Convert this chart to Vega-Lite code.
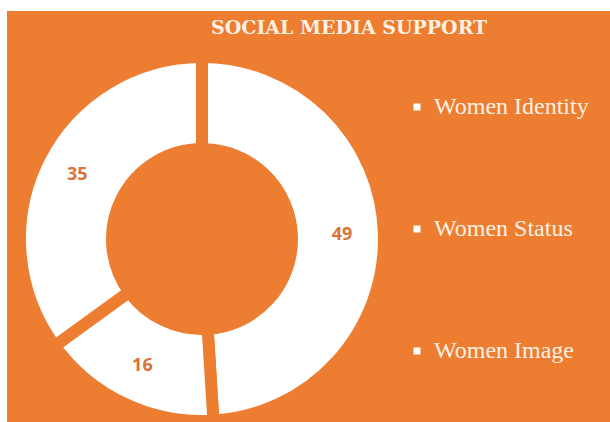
{
  "$schema": "https://vega.github.io/schema/vega-lite/v6.json",
  "autosize": {"type": "none"},
  "width": 603,
  "height": 411,
  "padding": {"left": 7, "top": 11, "right": 0, "bottom": 0},
  "background": "#FFFFFF",
  "view": {"fill": "#ED7D31", "stroke": null},
  "title": {
    "text": "SOCIAL MEDIA SUPPORT",
    "font": "DejaVu Serif",
    "fontSize": 19,
    "fontWeight": "bold",
    "color": "#FDF1E4",
    "anchor": "start",
    "frame": "group",
    "dx": 204,
    "offset": -42,
    "baseline": "alphabetic"
  },
  "data": {
    "values": [
      {"category": "Women Identity", "value": 49, "o": 1},
      {"category": "Women Status", "value": 16, "o": 2},
      {"category": "Women Image", "value": 35, "o": 3}
    ]
  },
  "encoding": {
    "theta": {"field": "value", "type": "quantitative", "stack": true},
    "order": {"field": "o", "type": "quantitative"}
  },
  "layer": [
    {
      "mark": {"type": "arc", "x": 195, "y": 228, "innerRadius": 90, "outerRadius": 182, "stroke": "#ED7D31", "strokeWidth": 12},
      "encoding": {
        "color": {
          "field": "category",
          "type": "nominal",
          "sort": ["Women Identity", "Women Status", "Women Image"],
          "scale": {"range": ["#FFFFFF", "#FFFFFF", "#FFFFFF"]},
          "legend": {
            "title": null,
            "orient": "none",
            "direction": "vertical",
            "legendX": 398,
            "legendY": 84,
            "padding": 0,
            "symbolType": "square",
            "symbolSize": 49,
            "symbolFillColor": "#FFFFFF",
            "symbolStrokeWidth": 0,
            "labelFont": "Liberation Serif",
            "labelFontSize": 24,
            "labelColor": "#FDF1E4",
            "labelOffset": 5,
            "labelLimit": 300,
            "rowPadding": 98
          }
        }
      }
    },
    {
      "mark": {"type": "text", "x": 195, "y": 228, "radius": 140, "font": "Open Sans", "fontWeight": "bold", "fontSize": 18, "color": "#D9733A"},
      "encoding": {
        "text": {"field": "value", "type": "quantitative"}
      }
    }
  ]
}
